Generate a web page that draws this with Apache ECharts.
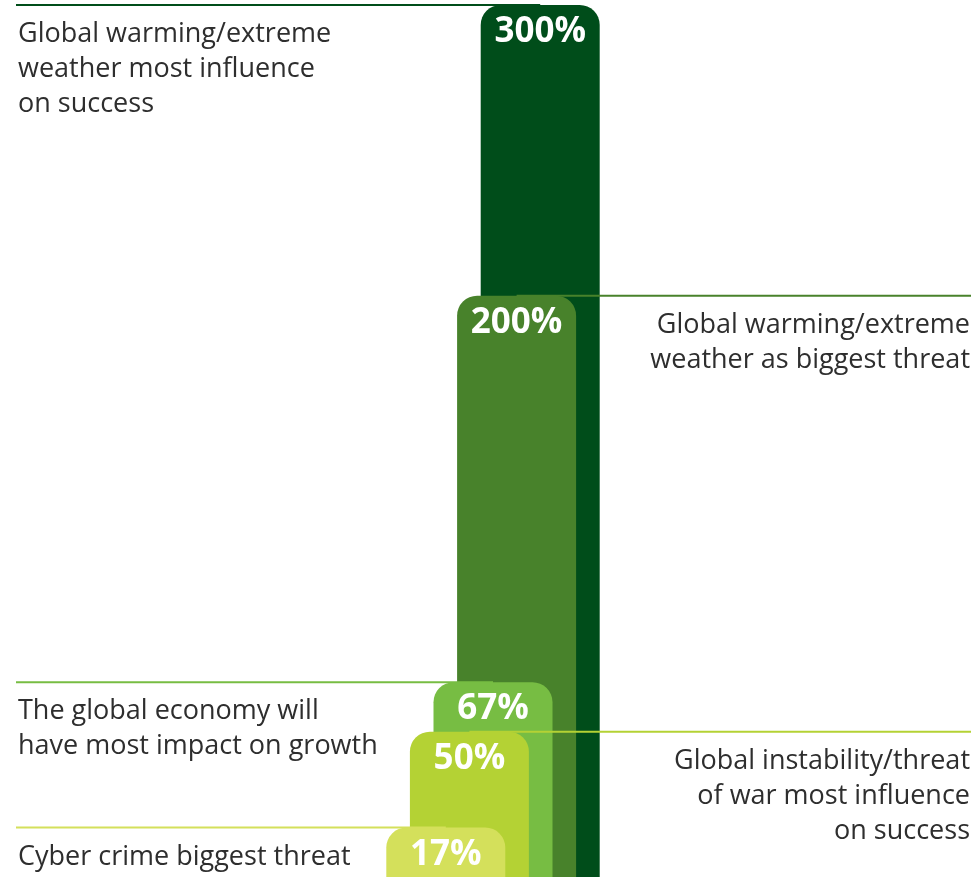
<!DOCTYPE html>
<html>
<head>
<meta charset="utf-8">
<style>
  html, body { margin: 0; padding: 0; background: #ffffff; }
  #chart { width: 977px; height: 877px; }
</style>
<script src="https://cdn.jsdelivr.net/npm/echarts@6/dist/echarts.min.js"></script>
</head>
<body>
<div id="chart"></div>
<script>
// Categories, ordered front (left) to back (right)
const categories = [
  'Cyber crime biggest threat',
  'Global instability/threat\nof war most influence\non success',
  'The global economy will\nhave most impact on growth',
  'Global warming/extreme\nweather as biggest threat',
  'Global warming/extreme\nweather most influence\non success'
];
const values = [17, 50, 67, 200, 300];
const valueLabels = ['17%', '50%', '67%', '200%', '300%'];
const barColors = ['#d4e05b', '#b4d234', '#77bd43', '#48822b', '#004d1a'];

const BAR_W = 119;
const RADIUS = 20;
const TEXT_COLOR = '#2e2e2e';

const chart = echarts.init(document.getElementById('chart'), null, { renderer: 'canvas' });

function renderItem(params, api) {
  const idx = params.dataIndex;
  const val = api.value(1);
  const top = api.coord([idx, val]);
  const base = api.coord([idx, 0]);
  const cx = top[0];
  const x0 = cx - BAR_W / 2;
  const yTop = top[1];
  const yBase = base[1];
  const onLeft = idx % 2 === 0;
  const zBase = (categories.length - idx) * 10;

  const children = [];
  // leader line running from the bar out to its caption
  children.push({
    type: 'line',
    z2: zBase,
    shape: onLeft
      ? { x1: 16, y1: yTop, x2: cx, y2: yTop }
      : { x1: cx, y1: yTop, x2: 971, y2: yTop },
    style: { stroke: barColors[idx], lineWidth: 2 }
  });
  // the bar itself, rounded on top
  children.push({
    type: 'rect',
    z2: zBase + 1,
    shape: { x: x0, y: yTop, width: BAR_W, height: yBase - yTop + 2, r: [RADIUS, RADIUS, 0, 0] },
    style: { fill: barColors[idx] }
  });
  // value inside the bar
  children.push({
    type: 'text',
    z2: zBase + 2,
    style: {
      text: valueLabels[idx],
      x: cx,
      y: yTop + 27,
      align: 'center',
      verticalAlign: 'middle',
      fill: '#ffffff',
      font: 'bold 35px "Open Sans", sans-serif'
    }
  });
  // caption
  children.push({
    type: 'text',
    z2: zBase + 2,
    style: {
      text: categories[idx],
      x: onLeft ? 18 : 970,
      y: yTop + 12,
      align: onLeft ? 'left' : 'right',
      verticalAlign: 'top',
      lineHeight: 35,
      fill: TEXT_COLOR,
      font: '27px "Open Sans", sans-serif'
    }
  });
  return { type: 'group', children: children };
}

chart.setOption({
  animation: false,
  grid: { left: 434, right: 425, top: 5, bottom: 0 },
  xAxis: {
    type: 'category',
    data: categories,
    show: false
  },
  yAxis: {
    type: 'value',
    min: 0,
    max: 300,
    show: false
  },
  series: [{
    type: 'custom',
    renderItem: renderItem,
    clip: false,
    data: values.map((v, i) => [i, v])
  }]
});
</script>
</body>
</html>
